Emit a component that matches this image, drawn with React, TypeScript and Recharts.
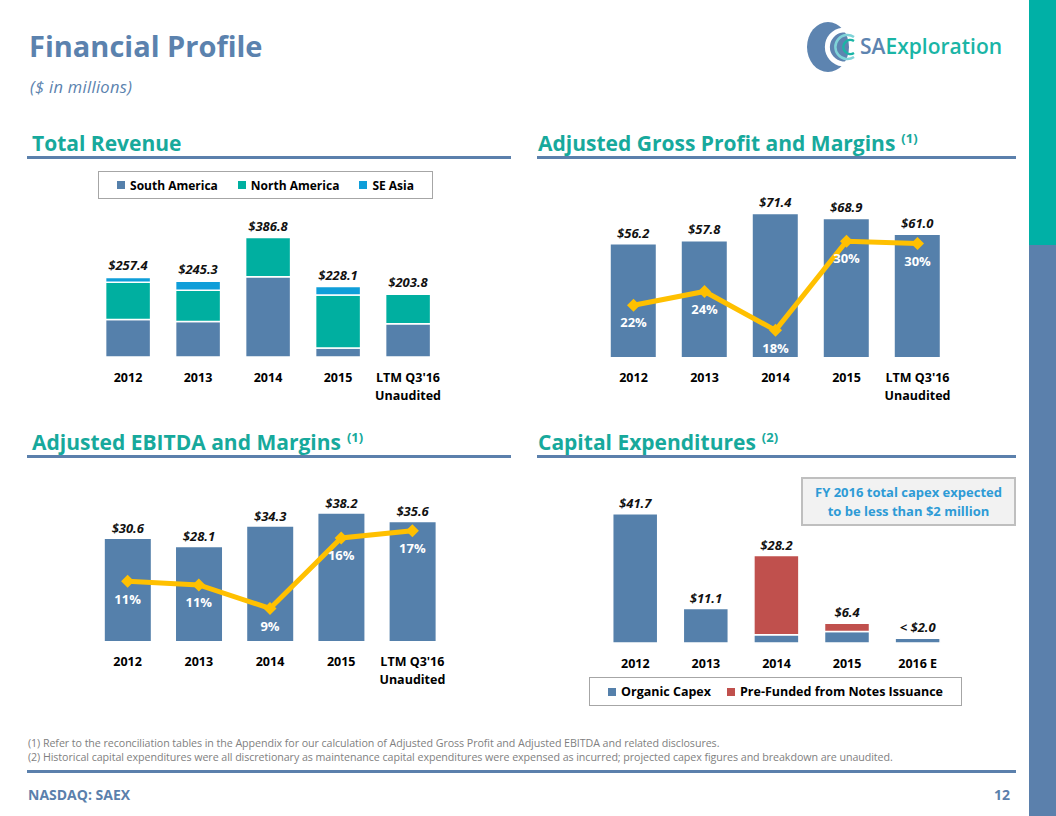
import React from 'react';
import { ComposedChart, Bar, Line, XAxis, YAxis, LabelList, Legend } from 'recharts';

// ---------- data ----------
const periods = ['2012', '2013', '2014', '2015', "LTM Q3'16\nUnaudited"];
const capexPeriods = ['2012', '2013', '2014', '2015', '2016 E'];

const southAmerica = [121.6, 115.0, 260.0, 29.3, 107.3];
const northAmerica = [120.2, 100.8, 126.8, 171.2, 95.5];
const seAsia = [15.6, 29.5, 0, 27.6, 1.0];
const revenueTotals = [257.4, 245.3, 386.8, 228.1, 203.8];
const revenueLabels = ['$257.4', '$245.3', '$386.8', '$228.1', '$203.8'];
const revenueSeries = ['South America', 'North America', 'SE Asia'];

const grossProfit = [56.2, 57.8, 71.4, 68.9, 61.0];
const grossProfitLabels = ['$56.2', '$57.8', '$71.4', '$68.9', '$61.0'];
const grossMargin = [21.8, 23.6, 18.5, 30.2, 29.9];
const grossMarginLabels = ['22%', '24%', '18%', '30%', '30%'];

const ebitda = [30.6, 28.1, 34.3, 38.2, 35.6];
const ebitdaLabels = ['$30.6', '$28.1', '$34.3', '$38.2', '$35.6'];
const ebitdaMargin = [11.9, 11.5, 8.9, 16.7, 17.5];
const ebitdaMarginLabels = ['11%', '11%', '9%', '16%', '17%'];

const organicCapex = [41.7, 11.1, 2.7, 3.7, 1.5];
const preFundedCapex = [0, 0, 25.5, 2.7, 0];
const capexTotals = [41.7, 11.1, 28.2, 6.4, 1.5];
const capexLabels = ['$41.7', '$11.1', '$28.2', '$6.4', '< $2.0'];
const capexSeries = ['Organic Capex', 'Pre-Funded from Notes Issuance'];

// ---------- styles ----------
const FONT = "'Open Sans', Lato, Arial, sans-serif";
const BLUE = '#5580AB';
const TEAL = '#00AFA0';
const SKY = '#0F9ED9';
const RED = '#C0504D';
const GOLD = '#FFC000';
const AXIS = '#A6A6A6';
const HEAD_TEAL = '#17A99C';
const SLATE = '#5B80AC';

const revenueColors = [BLUE, TEAL, SKY];
const capexColors = [BLUE, RED];

const revenueData = periods.map((p, i) => ({
  period: p, sa: southAmerica[i], na: northAmerica[i], se: seAsia[i], total: revenueTotals[i], label: revenueLabels[i],
}));
const gpData = periods.map((p, i) => ({
  period: p, value: grossProfit[i], label: grossProfitLabels[i], margin: grossMargin[i], marginLabel: grossMarginLabels[i],
}));
const ebitdaData = periods.map((p, i) => ({
  period: p, value: ebitda[i], label: ebitdaLabels[i], margin: ebitdaMargin[i], marginLabel: ebitdaMarginLabels[i],
}));
const capexData = capexPeriods.map((p, i) => ({
  period: p, organic: organicCapex[i], prefunded: preFundedCapex[i], total: capexTotals[i], label: capexLabels[i],
}));

const CatTick = (props: any) => {
  const { x, y, payload } = props;
  const lines = String(payload.value).split('\n');
  return (
    <g>
      {lines.map((l, i) => (
        <text key={i} x={x} y={y + 25 + i * 18} textAnchor="middle" fontFamily={FONT} fontWeight={700} fontSize={12.5} fill="#000">
          {l}
        </text>
      ))}
    </g>
  );
};

const Diamond = (props: any) => {
  const { cx, cy, index } = props;
  if (cx == null || cy == null) return <g key={index} />;
  const r = 6.5;
  return <polygon key={index} points={`${cx},${cy - r} ${cx + r},${cy} ${cx},${cy + r} ${cx - r},${cy}`} fill={GOLD} />;
};

const valueLabelProps = { fontFamily: FONT, fontWeight: 700, fontStyle: 'italic', fontSize: 13, fill: '#111' } as any;
const marginLabelProps = { fontFamily: FONT, fontWeight: 700, fontSize: 13, fill: '#fff' } as any;

const frameAxis = (
  <XAxis xAxisId="frame" type="number" domain={[0, 5]} ticks={[0, 1, 2, 3, 4, 5]} tick={false}
    tickLine={{ stroke: AXIS }} axisLine={{ stroke: AXIS }} tickSize={6} height={0} allowDataOverflow />
);

const BoxLegend = ({ names, colors, gap, fontSize }: any) => (
  <div style={{ boxSizing: 'border-box', border: `1px solid ${AXIS}`, height: '100%', display: 'flex', alignItems: 'center', justifyContent: 'center', gap, fontFamily: FONT, fontWeight: 700, fontSize, color: '#000', background: '#fff' }}>
    {names.map((n: string, i: number) => (
      <span key={i} style={{ display: 'flex', alignItems: 'center', gap: 5 }}>
        <span style={{ width: 8, height: 8, background: colors[i], display: 'inline-block' }} />
        {n}
      </span>
    ))}
  </div>
);

const Header = ({ left, textLeft, top, text, sup }: any) => (
  <>
    <div style={{ position: 'absolute', left: textLeft, top, fontSize: 21, fontWeight: 700, color: HEAD_TEAL, lineHeight: '24px', whiteSpace: 'nowrap' }}>
      {text}
      {sup ? <span style={{ fontSize: 13, position: 'relative', top: -8, marginLeft: 6 }}>{sup}</span> : null}
    </div>
    <div style={{ position: 'absolute', left, top: top + 25, width: left < 500 ? 484 : 479, height: 3, background: SLATE }} />
  </>
);

const totalLine = (offset: number) => (
  <Line xAxisId="cat" yAxisId="v" dataKey="total" stroke="none" dot={false} activeDot={false} legendType="none" isAnimationActive={false}>
    <LabelList dataKey="label" position="top" offset={offset} {...valueLabelProps} />
  </Line>
);

export default function App() {
  return (
    <div style={{ position: 'absolute', left: 0, top: 0, width: 1056, height: 816, background: '#fff', overflow: 'hidden', fontFamily: FONT }}>
      {/* sidebar */}
      <div style={{ position: 'absolute', left: 1029, top: 0, width: 27, height: 245, background: '#00B0A6' }} />
      <div style={{ position: 'absolute', left: 1029, top: 245, width: 27, height: 571, background: SLATE }} />

      {/* title */}
      <div style={{ position: 'absolute', left: 29, top: 28, fontSize: 29, fontWeight: 700, color: '#5B82AE', lineHeight: '36px' }}>Financial Profile</div>
      <div style={{ position: 'absolute', left: 30, top: 76, fontSize: 16.5, fontStyle: 'italic', color: '#5B82AE', lineHeight: '22px', letterSpacing: 0.3 }}>($ in millions)</div>

      {/* logo */}
      <svg style={{ position: 'absolute', left: 800, top: 18 }} width={220} height={60}>
        <ellipse cx={28} cy={29} rx={21} ry={25} fill="#5D84B0" />
        <path d="M54 15 A17 17 0 1 0 54 43" fill="none" stroke="#fff" strokeWidth={5} />
        <path d="M54 19 A12 12 0 1 0 54 39" fill="none" stroke="#7FD3D8" strokeWidth={2.5} />
        <path d="M54 23 A7 7 0 1 0 54 35" fill="none" stroke="#1AB5A6" strokeWidth={2.5} />
        <text x={60} y={36} fontFamily={FONT} fontSize={21} fontWeight={600}>
          <tspan fill="#5D84B0">SA</tspan>
          <tspan fill="#1AB5A6">Exploration</tspan>
        </text>
      </svg>

      <Header left={27} textLeft={32} top={131} text="Total Revenue" />
      <Header left={537} textLeft={538} top={131} text="Adjusted Gross Profit and Margins" sup="(1)" />
      <Header left={27} textLeft={32} top={430} text="Adjusted EBITDA and Margins" sup="(1)" />
      <Header left={537} textLeft={538} top={430} text="Capital Expenditures" sup="(2)" />

      {/* Total revenue */}
      <div style={{ position: 'absolute', left: 80, top: 165 }}>
        <ComposedChart width={380} height={245} data={revenueData} margin={{ top: 53, right: 17, bottom: 13, left: 13 }} barCategoryGap="18%">
          {frameAxis}
          <XAxis xAxisId="cat" dataKey="period" axisLine={false} tickLine={false} tickSize={0} tickMargin={0} tick={<CatTick />} height={40} interval={0} />
          <YAxis yAxisId="v" hide domain={[0, 450]} />
          <Legend verticalAlign="middle" layout="horizontal"
            wrapperStyle={{ top: 6, left: 18, width: 335, height: 28 }}
            content={() => <BoxLegend names={revenueSeries} colors={revenueColors} gap={20} fontSize={12} />} />
          <Bar xAxisId="cat" yAxisId="v" dataKey="sa" name={revenueSeries[0]} stackId="r" fill={BLUE} stroke="#fff" strokeWidth={1.5} isAnimationActive={false} />
          <Bar xAxisId="cat" yAxisId="v" dataKey="na" name={revenueSeries[1]} stackId="r" fill={TEAL} stroke="#fff" strokeWidth={1.5} isAnimationActive={false} />
          <Bar xAxisId="cat" yAxisId="v" dataKey="se" name={revenueSeries[2]} stackId="r" fill={SKY} stroke="#fff" strokeWidth={1.5} isAnimationActive={false} />
          {totalLine(7)}
        </ComposedChart>
      </div>

      {/* Gross profit */}
      <div style={{ position: 'absolute', left: 585, top: 165 }}>
        <ComposedChart width={390} height={245} data={gpData} margin={{ top: 32, right: 22, bottom: 13, left: 13 }} barCategoryGap="18%">
          {frameAxis}
          <XAxis xAxisId="cat" dataKey="period" axisLine={false} tickLine={false} tickSize={0} tickMargin={0} tick={<CatTick />} height={40} interval={0} />
          <YAxis yAxisId="v" hide domain={[0, 80]} />
          <YAxis yAxisId="m" orientation="right" hide domain={[15, 36]} />
          <Bar xAxisId="cat" yAxisId="v" dataKey="value" fill={BLUE} isAnimationActive={false}>
            <LabelList dataKey="label" position="top" offset={7} {...valueLabelProps} />
          </Bar>
          <Line xAxisId="cat" yAxisId="m" dataKey="margin" stroke={GOLD} strokeWidth={5} dot={Diamond} activeDot={false} isAnimationActive={false}>
            <LabelList dataKey="marginLabel" position="bottom" offset={13} {...marginLabelProps} />
          </Line>
        </ComposedChart>
      </div>

      {/* EBITDA */}
      <div style={{ position: 'absolute', left: 80, top: 460 }}>
        <ComposedChart width={390} height={245} data={ebitdaData} margin={{ top: 31, right: 22, bottom: 24, left: 12 }} barCategoryGap="18%">
          {frameAxis}
          <XAxis xAxisId="cat" dataKey="period" axisLine={false} tickLine={false} tickSize={0} tickMargin={0} tick={<CatTick />} height={40} interval={0} />
          <YAxis yAxisId="v" hide domain={[0, 45]} />
          <YAxis yAxisId="m" orientation="right" hide domain={[5.3, 21.9]} />
          <Bar xAxisId="cat" yAxisId="v" dataKey="value" fill={BLUE} isAnimationActive={false}>
            <LabelList dataKey="label" position="top" offset={6} {...valueLabelProps} />
          </Bar>
          <Line xAxisId="cat" yAxisId="m" dataKey="margin" stroke={GOLD} strokeWidth={5} dot={Diamond} activeDot={false} isAnimationActive={false}>
            <LabelList dataKey="marginLabel" position="bottom" offset={13} {...marginLabelProps} />
          </Line>
        </ComposedChart>
      </div>

      {/* Capex */}
      <div style={{ position: 'absolute', left: 585, top: 460 }}>
        <ComposedChart width={390} height={255} data={capexData} margin={{ top: 28, right: 22, bottom: 42, left: 15 }} barCategoryGap="18%">
          {frameAxis}
          <XAxis xAxisId="cat" dataKey="period" axisLine={false} tickLine={false} tickSize={0} tickMargin={0} tick={<CatTick />} height={30} interval={0} />
          <YAxis yAxisId="v" hide domain={[0, 50]} />
          <Legend verticalAlign="middle" layout="horizontal"
            wrapperStyle={{ top: 217, left: 4, width: 373, height: 29 }}
            content={() => <BoxLegend names={capexSeries} colors={capexColors} gap={16} fontSize={12.5} />} />
          <Bar xAxisId="cat" yAxisId="v" dataKey="organic" name={capexSeries[0]} stackId="c" fill={BLUE} stroke="#fff" strokeWidth={1.5} isAnimationActive={false} />
          <Bar xAxisId="cat" yAxisId="v" dataKey="prefunded" name={capexSeries[1]} stackId="c" fill={RED} stroke="#fff" strokeWidth={1.5} isAnimationActive={false} />
          {totalLine(6)}
        </ComposedChart>
      </div>

      {/* note box */}
      <div style={{ position: 'absolute', left: 801, top: 477, width: 215, height: 49, boxSizing: 'border-box', border: '2px solid #BFBFBF', background: '#F2F2F2', color: '#2E9BD6', fontWeight: 700, fontSize: 13, lineHeight: '19px', textAlign: 'center', paddingTop: 4, whiteSpace: 'nowrap' }}>
        FY 2016 total capex expected<br />to be less than $2 million
      </div>

      {/* footnotes */}
      <div style={{ position: 'absolute', left: 28, top: 736, fontSize: 10.7, color: '#7F7F7F', lineHeight: '14px', whiteSpace: 'nowrap', letterSpacing: -0.07 }}>
        <div>(1) Refer to the reconciliation tables in the Appendix for our calculation of Adjusted Gross Profit and Adjusted EBITDA and related disclosures.</div>
        <div>(2) Historical capital expenditures were all discretionary as maintenance capital expenditures were expensed as incurred; projected capex figures and breakdown are unaudited.</div>
      </div>

      {/* footer */}
      <div style={{ position: 'absolute', left: 27, top: 770, width: 989, height: 3, background: SLATE }} />
      <div style={{ position: 'absolute', left: 28, top: 786, fontSize: 14, fontWeight: 700, color: SLATE, lineHeight: '18px' }}>NASDAQ: SAEX</div>
      <div style={{ position: 'absolute', left: 994, top: 786, fontSize: 14, fontWeight: 700, color: SLATE, lineHeight: '18px' }}>12</div>
    </div>
  );
}
